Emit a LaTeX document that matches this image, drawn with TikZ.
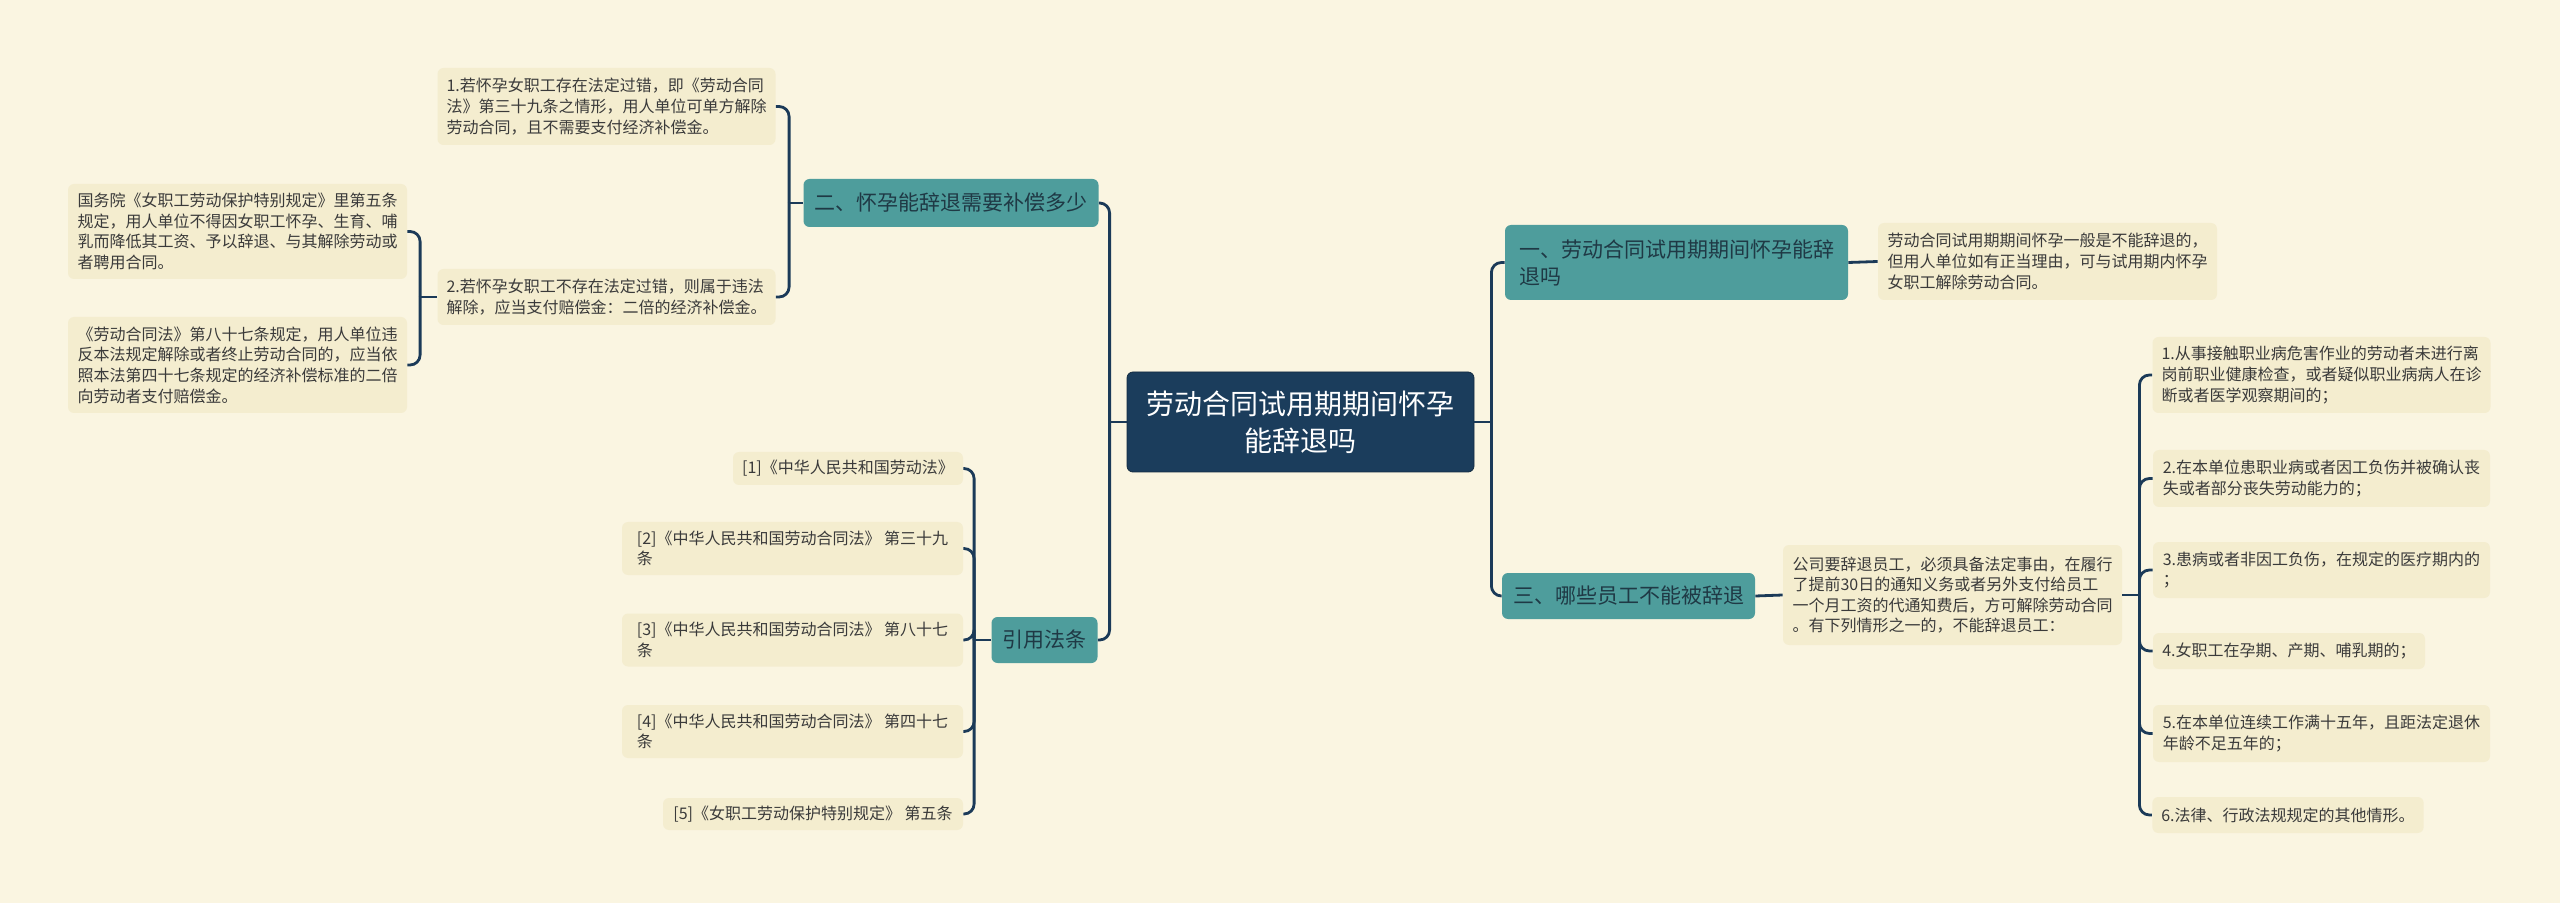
\documentclass[tikz,border=0pt]{standalone}
\usepackage{fontspec}
\setmainfont{Noto Sans CJK SC}
\definecolor{bg}{HTML}{FAF5E1}
\definecolor{leafc}{HTML}{F4EDCF}
\definecolor{leaftext}{HTML}{3A3A3A}
\definecolor{tealc}{HTML}{4E9D9C}
\definecolor{tealtext}{HTML}{1F3945}
\definecolor{rootc}{HTML}{1B3D5C}
\definecolor{linec}{HTML}{1B3A58}
\begin{document}
\begin{tikzpicture}[x=0.5pt,y=-0.5pt,
  leaf/.style={fill=leafc, rounded corners=3pt, inner xsep=4.5pt, inner ysep=0pt, align=left, font=\fontsize{8}{10.3}\selectfont, text=leaftext},
  tealbox/.style={fill=tealc, rounded corners=3pt, inner xsep=5.5pt, inner ysep=0pt, align=left, font=\fontsize{10.5}{13.5}\selectfont, text=tealtext},
  rootbox/.style={fill=rootc, draw=rootc!70!black, line width=0.4pt, rounded corners=3pt, inner ysep=0pt, align=center, font=\fontsize{14}{18.5}\selectfont, text=white},
  link/.style={draw=linec, line width=1.4pt, rounded corners=5pt},
  stub/.style={draw=linec, line width=1.4pt}]
\fill[bg] (0,0) rectangle (2560,903);
\useasboundingbox (0,0) rectangle (2560,903);

% root
\node[rootbox, minimum width=173.5pt, minimum height=50pt] (root) at (1300.5,422) {劳动合同试用期期间怀孕\\能辞退吗};

% left branch 2
\node[tealbox, minimum width=145pt, minimum height=24pt] (B2) at (951,203) {二、怀孕能辞退需要补偿多少};
\node[leaf, minimum width=168.5pt, minimum height=38.5pt] (L2a) at (606.5,106.5) {1.若怀孕女职工存在法定过错，即《劳动合同\\法》第三十九条之情形，用人单位可单方解除\\劳动合同，且不需要支付经济补偿金。};
\node[leaf, minimum width=168.5pt, minimum height=28pt] (L2b) at (606.5,297) {2.若怀孕女职工不存在法定过错，则属于违法\\解除，应当支付赔偿金：二倍的经济补偿金。};
\node[leaf, minimum width=169.5pt, minimum height=47.5pt] (L2b1) at (237.5,231.5) {国务院《女职工劳动保护特别规定》里第五条\\规定，用人单位不得因女职工怀孕、生育、哺\\乳而降低其工资、予以辞退、与其解除劳动或\\者聘用合同。};
\node[leaf, minimum width=169.5pt, minimum height=48pt] (L2b2) at (237.5,365) {《劳动合同法》第八十七条规定，用人单位违\\反本法规定解除或者终止劳动合同的，应当依\\照本法第四十七条规定的经济补偿标准的二倍\\向劳动者支付赔偿金。};

% left branch references
\node[tealbox, minimum width=51.5pt, minimum height=23pt] (B4) at (1044.5,640) {引用法条};
\node[leaf, minimum width=115pt, minimum height=16.5pt] (F1) at (848,468.5) {[1]《中华人民共和国劳动法》};
\node[leaf, minimum width=170.5pt, minimum height=26.5pt] (F2) at (792.5,548.5) {[2]《中华人民共和国劳动合同法》 第三十九\\条};
\node[leaf, minimum width=170.5pt, minimum height=26.5pt] (F3) at (792.5,640) {[3]《中华人民共和国劳动合同法》 第八十七\\条};
\node[leaf, minimum width=170.5pt, minimum height=26.5pt] (F4) at (792.5,731.5) {[4]《中华人民共和国劳动合同法》 第四十七\\条};
\node[leaf, minimum width=150pt, minimum height=16pt] (F5) at (813,814) {[5]《女职工劳动保护特别规定》 第五条};

% right branch 1
\node[tealbox, minimum width=171.5pt, minimum height=37.5pt] (B1) at (1676.5,262.5) {一、劳动合同试用期期间怀孕能辞\\退吗};
\node[leaf, minimum width=169.5pt, minimum height=38.5pt] (L1a) at (2047.5,261.5) {劳动合同试用期期间怀孕一般是不能辞退的，\\但用人单位如有正当理由，可与试用期内怀孕\\女职工解除劳动合同。};

% right branch 3
\node[tealbox, minimum width=123.5pt, minimum height=23pt] (B3) at (1628.5,596) {三、哪些员工不能被辞退};
\node[leaf, minimum width=169.5pt, minimum height=50pt] (L3a) at (1952.5,595) {公司要辞退员工，必须具备法定事由，在履行\\了提前30日的通知义务或者另外支付给员工\\一个月工资的代通知费后，方可解除劳动合同\\。有下列情形之一的，不能辞退员工：};
\node[leaf, minimum width=168.5pt, minimum height=38pt] (R1) at (2321.5,375) {1.从事接触职业病危害作业的劳动者未进行离\\岗前职业健康检查，或者疑似职业病病人在诊\\断或者医学观察期间的；};
\node[leaf, minimum width=168.5pt, minimum height=28.5pt] (R2) at (2321.5,478.5) {2.在本单位患职业病或者因工负伤并被确认丧\\失或者部分丧失劳动能力的；};
\node[leaf, minimum width=168.5pt, minimum height=28pt] (R3) at (2321.5,570) {3.患病或者非因工负伤，在规定的医疗期内的\\；};
\node[leaf, minimum width=136pt, minimum height=18pt] (R4) at (2289,651) {4.女职工在孕期、产期、哺乳期的；};
\node[leaf, minimum width=168.5pt, minimum height=28.5pt] (R5) at (2321.5,733.5) {5.在本单位连续工作满十五年，且距法定退休\\年龄不足五年的；};
\node[leaf, minimum width=135pt, minimum height=18pt] (R6) at (2288,815) {6.法律、行政法规规定的其他情形。};

% connectors
\coordinate (sRootL) at ([xshift=-8.5pt]root.west);
\draw[stub] (root.west) -- (sRootL);
\draw[link] (sRootL) |- (B2.east);
\draw[link] (sRootL) |- (B4.east);

\coordinate (sRootR) at ([xshift=8.5pt]root.east);
\draw[stub] (root.east) -- (sRootR);
\draw[link] (sRootR) |- (B1.west);
\draw[link] (sRootR) |- (B3.west);

\coordinate (sB2) at ([xshift=-7pt]B2.west);
\draw[stub] (B2.west) -- (sB2);
\draw[link] (sB2) |- (L2a.east);
\draw[link] (sB2) |- (L2b.east);

\coordinate (sL2b) at ([xshift=-8.5pt]L2b.west);
\draw[stub] (L2b.west) -- (sL2b);
\draw[link] (sL2b) |- (L2b1.east);
\draw[link] (sL2b) |- (L2b2.east);

\coordinate (sB4) at ([xshift=-8.5pt]B4.west);
\draw[stub] (B4.west) -- (sB4);
\draw[link] (sB4) |- (F1.east);
\draw[link] (sB4) |- (F2.east);
\draw[link] (sB4) |- (F3.east);
\draw[link] (sB4) |- (F4.east);
\draw[link] (sB4) |- (F5.east);

\draw[stub] (B1.east) -- (L1a.west);
\draw[stub] (B3.east) -- (L3a.west);

\coordinate (sL3a) at ([xshift=8.5pt]L3a.east);
\draw[stub] (L3a.east) -- (sL3a);
\draw[link] (sL3a) |- (R1.west);
\draw[link] (sL3a) |- (R2.west);
\draw[link] (sL3a) |- (R3.west);
\draw[link] (sL3a) |- (R4.west);
\draw[link] (sL3a) |- (R5.west);
\draw[link] (sL3a) |- (R6.west);
\end{tikzpicture}
\end{document}
